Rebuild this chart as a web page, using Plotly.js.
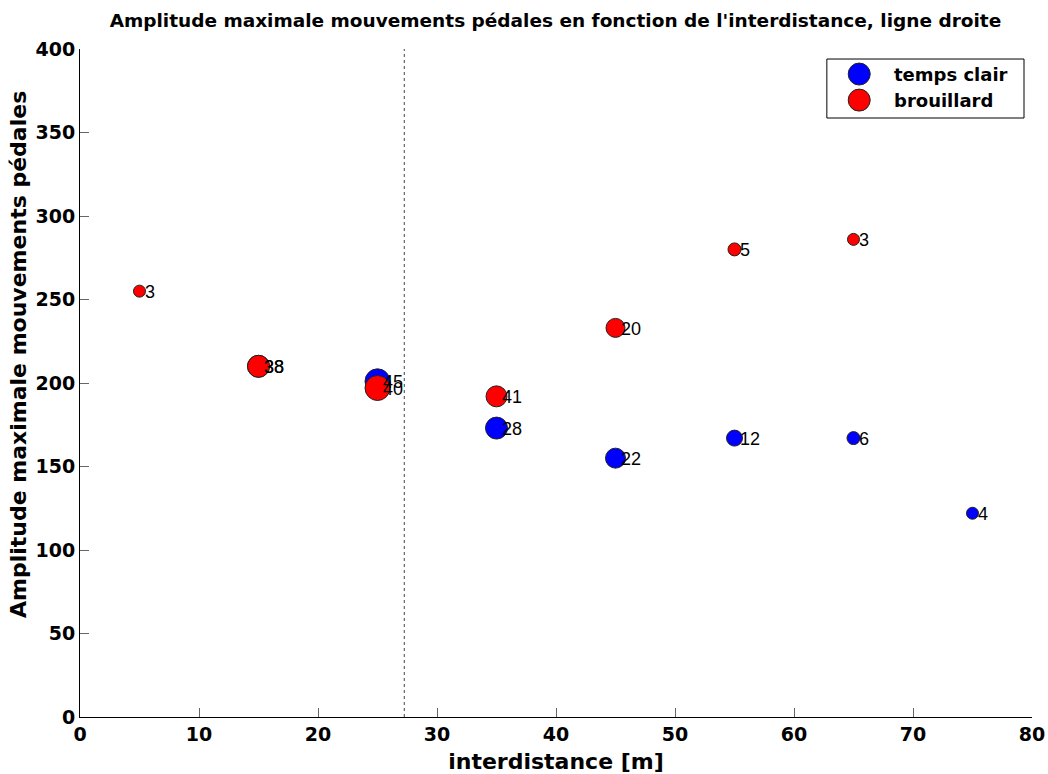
<!DOCTYPE html>
<html>
<head>
<meta charset="utf-8">
<script src="https://cdn.plot.ly/plotly-3.0.1.min.js"></script>
<style>html,body{margin:0;padding:0;background:#fff}#chart{width:1048px;height:774px}</style>
</head>
<body>
<div id="chart"></div>
<script>
// ---- data ----
const seriesNames = ["temps clair", "brouillard"];
const clairX = [15, 25, 35, 45, 55, 65, 75];
const clairY = [210, 201, 173, 155, 167, 167, 122];
const clairN = [38, 45, 28, 22, 12, 6, 4];
const clairSize = [22, 25, 22, 20, 16, 13, 12];

const brouX = [5, 15, 25, 35, 45, 55, 65];
const brouY = [255, 210, 197, 192, 233, 280, 286];
const brouN = [3, 38, 40, 41, 20, 5, 3];
const brouSize = [12, 22, 25, 21, 19, 13, 12];

const thresholdX = 27.25;
const xTicks = [0, 10, 20, 30, 40, 50, 60, 70, 80];
const yTicks = [0, 50, 100, 150, 200, 250, 300, 350, 400];
const titleText = "Amplitude maximale mouvements pédales en fonction de l'interdistance, ligne droite";
const xTitle = "interdistance [m]";
const yTitle = "Amplitude maximale mouvements pédales";

const FONT = "DejaVu Sans, Verdana, sans-serif";
const LFONT = "Liberation Sans, Arial, Helvetica, sans-serif";
const colors = ["#0000ff", "#ff0000"];

const traces = [
  {x: clairX, y: clairY, type: "scatter", mode: "markers", name: seriesNames[0],
   marker: {color: colors[0], size: clairSize, opacity: 1, line: {color: "#222", width: 1}}, showlegend: false, hoverinfo: "x+y"},
  {x: brouX, y: brouY, type: "scatter", mode: "markers", name: seriesNames[1],
   marker: {color: colors[1], size: brouSize, opacity: 1, line: {color: "#222", width: 1}}, showlegend: false, hoverinfo: "x+y"}
];

const annotations = [];
function addLabels(xs, ys, ns) {
  xs.forEach((x, i) => annotations.push({
    x: x, y: ys[i], xref: "x", yref: "y", text: String(ns[i]), showarrow: false,
    xanchor: "left", yanchor: "middle", xshift: 3, yshift: -1,
    font: {family: LFONT, size: 18, color: "#000"}
  }));
}
addLabels(clairX, clairY, clairN);
addLabels(brouX, brouY, brouN);

// y-axis title (placed as in the reference)
annotations.push({xref: "paper", yref: "paper", x: -0.064, y: 0.542, text: yTitle, textangle: -90,
  showarrow: false, xanchor: "center", yanchor: "middle",
  font: {family: FONT, size: 22, color: "#000", weight: "bold"}});

// legend (manual)
const legX0 = 0.7845, legX1 = 0.9916, legY0 = 0.8967, legY1 = 0.985;
const legRowY = [0.9625, 0.9235];
const shapes = [
  {type: "line", xref: "x", yref: "paper", x0: thresholdX, x1: thresholdX, y0: 0, y1: 1,
   line: {color: "#444", width: 1, dash: "dot"}},
  {type: "rect", xref: "paper", yref: "paper", x0: legX0, x1: legX1, y0: legY0, y1: legY1,
   line: {color: "#000", width: 1}, fillcolor: "#fff", layer: "above"}
];
seriesNames.forEach((nm, i) => {
  shapes.push({type: "circle", xref: "paper", yref: "paper", xsizemode: "pixel", ysizemode: "pixel",
    xanchor: 0.8185, yanchor: legRowY[i], x0: -11, x1: 11, y0: -11, y1: 11,
    fillcolor: colors[i], line: {color: "#222", width: 1}, layer: "above"});
  annotations.push({xref: "paper", yref: "paper", x: 0.853, y: legRowY[i], text: nm, showarrow: false,
    xanchor: "left", yanchor: "middle", font: {family: FONT, size: 18, color: "#000", weight: "bold"}});
});

const axisCommon = {
  showgrid: false, zeroline: false, showline: true, linecolor: "#000", linewidth: 1,
  ticks: "inside", ticklen: 9, tickcolor: "#666", tickwidth: 1,
  tickfont: {family: FONT, size: 19, color: "#000", weight: "bold"}
};

const layout = {
  width: 1048, height: 774,
  paper_bgcolor: "#fff", plot_bgcolor: "#fff",
  margin: {l: 80, r: 16, t: 49, b: 57},
  showlegend: false,
  title: {text: titleText,
    font: {family: FONT, size: 18.5, color: "#000", weight: "bold"}, x: 0.53, xanchor: "center", y: 0.974, yanchor: "middle"},
  xaxis: Object.assign({}, axisCommon, {range: [0, 80], tickvals: xTicks, automargin: false,
    title: {text: xTitle, font: {family: FONT, size: 22, color: "#000", weight: "bold"}, standoff: 9}}),
  yaxis: Object.assign({}, axisCommon, {range: [0, 400], tickvals: yTicks, automargin: false}),
  shapes: shapes,
  annotations: annotations
};

Plotly.newPlot("chart", traces, layout, {displayModeBar: false, staticPlot: true});
</script>
</body>
</html>
